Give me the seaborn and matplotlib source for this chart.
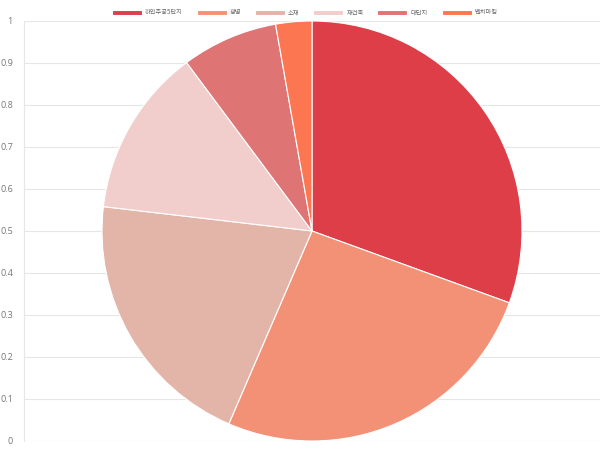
import matplotlib
matplotlib.use("Agg")
import matplotlib.pyplot as plt
import seaborn as sns

# keyword share data
labels = ["하안주공5단지", "광명", "소재", "재건축", "대단지", "벤치마킹"]
values = [33, 28, 22, 14, 8, 3]
colors = ["#DD3E48", "#F39177", "#E3B5A9", "#F1CDCB", "#DF7474", "#FC7651"]
y_ticks = [0, 0.1, 0.2, 0.3, 0.4, 0.5, 0.6, 0.7, 0.8, 0.9, 1]
y_tick_labels = ["0", "0.1", "0.2", "0.3", "0.4", "0.5", "0.6", "0.7", "0.8", "0.9", "1"]

sns.set_theme(style="white")
plt.rcParams["font.family"] = ["Noto Sans CJK KR", "DejaVu Sans"]

fig = plt.figure(figsize=(6, 4.5), dpi=100)
rect = [24 / 600, 9 / 450, 576 / 600, 420 / 450]

# background axis with grid
ax = fig.add_axes(rect)
ax.set_ylim(0, 1)
ax.set_xlim(0, 1)
ax.set_yticks(y_ticks)
ax.set_yticklabels(y_tick_labels, fontsize=6.5, color="#777777", family="Open Sans")
ax.set_xticks([])
ax.tick_params(axis="y", length=6, color="#e6e6e6", width=0.8, pad=2)
ax.yaxis.grid(True, color="#e6e6e6", linewidth=0.8)
for side in ["top", "right", "bottom"]:
    ax.spines[side].set_visible(False)
ax.spines["left"].set_color("#e6e6e6")
ax.spines["left"].set_linewidth(0.8)

# pie on top
ax2 = fig.add_axes(rect)
wedges, _ = ax2.pie(
    values, colors=colors, startangle=90, counterclock=False, radius=1,
    wedgeprops={"edgecolor": "white", "linewidth": 0.8},
)
ax2.set_aspect("auto")
ax2.set_xlim(-576 / 420, 576 / 420)
ax2.set_ylim(-1, 1)
ax2.axis("off")

fig.legend(
    wedges, labels, loc="upper center", bbox_to_anchor=(0.508, 0.994), ncol=6,
    frameon=False, fontsize=4.5, handlelength=4.8, handleheight=0.8,
    columnspacing=2.2, handletextpad=0.5, labelcolor="#666666",
)

plt.savefig("out.png", dpi=100)
plt.close()
